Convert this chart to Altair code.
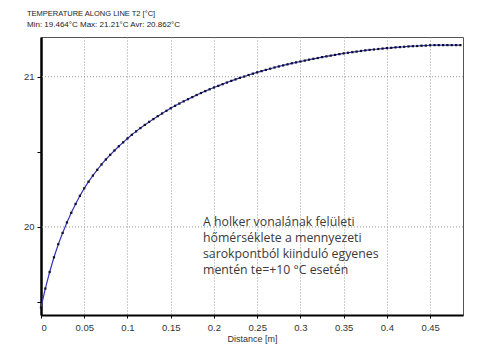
import altair as alt
import pandas as pd

# Sampling positions along line T2 (m), every 5 mm
distance_m = [round(i * 0.005, 3) for i in range(98)]

# Surface temperature at each sampling position (°C)
temperature_c = [
    19.464, 19.590, 19.700, 19.798, 19.885, 19.960, 20.030, 20.094, 20.153, 20.207,
    20.257, 20.301, 20.342, 20.380, 20.416, 20.449, 20.480, 20.509, 20.537, 20.563,
    20.589, 20.613, 20.636, 20.658, 20.679, 20.699, 20.718, 20.737, 20.755, 20.773,
    20.790, 20.806, 20.821, 20.836, 20.850, 20.864, 20.878, 20.891, 20.904, 20.916,
    20.928, 20.939, 20.950, 20.961, 20.972, 20.982, 20.992, 21.001, 21.011, 21.020,
    21.029, 21.037, 21.045, 21.053, 21.061, 21.068, 21.075, 21.082, 21.089, 21.095,
    21.101, 21.107, 21.113, 21.119, 21.124, 21.130, 21.135, 21.140, 21.145, 21.150,
    21.155, 21.159, 21.163, 21.167, 21.171, 21.175, 21.178, 21.181, 21.184, 21.187,
    21.190, 21.192, 21.195, 21.197, 21.199, 21.201, 21.203, 21.204, 21.206, 21.207,
    21.209, 21.210, 21.210, 21.210, 21.210, 21.210, 21.210, 21.210,
]

x_ticks = [0, 0.05, 0.1, 0.15, 0.2, 0.25, 0.3, 0.35, 0.4, 0.45]
y_ticks = [19.5, 19.75, 20, 20.25, 20.5, 20.75, 21, 21.25]
y_grid = [20, 21]

title_line1 = "TEMPERATURE ALONG LINE T2 [°C]"
title_line2 = "Min: 19.464°C  Max: 21.21°C  Avr: 20.862°C"
note_lines = [
    "A holker vonalának felületi",
    "hőmérséklete a mennyezeti",
    "sarokpontból kiinduló egyenes",
    "mentén te=+10 °C esetén",
]

df = pd.DataFrame({"d": distance_m, "t": temperature_c})
grid_df = pd.DataFrame({"g": y_grid})
one = pd.DataFrame({"k": [0]})

SANS = "Liberation Sans"

x_scale = alt.Scale(domain=[0, 0.488], nice=False, zero=False)
y_scale = alt.Scale(domain=[19.414, 21.264], nice=False, zero=False)

x_enc = alt.X(
    "d:Q",
    scale=x_scale,
    title="Distance [m]",
    axis=alt.Axis(
        values=x_ticks,
        format=".2~f",
        grid=True,
        gridColor="#9a9a9a",
        gridDash=[1, 2],
        gridWidth=1,
        domainColor="#000000",
        domainWidth=2,
        tickColor="#000000",
        tickSize=3,
        labelPadding=4,
        labelFont=SANS,
        labelFontSize=9.5,
        labelColor="#333333",
        titleFont=SANS,
        titleFontSize=9,
        titleFontWeight="normal",
        titleColor="#333333",
        titlePadding=3,
    ),
)

y_enc = alt.Y(
    "t:Q",
    scale=y_scale,
    title=None,
    axis=alt.Axis(
        values=y_ticks,
        format=".0f",
        labelExpr="datum.value == 20 || datum.value == 21 ? datum.label : ''",
        grid=False,
        domainColor="#000000",
        domainWidth=2.5,
        tickColor="#000000",
        tickSize=4,
        labelPadding=3,
        labelFont=SANS,
        labelFontSize=9.5,
        labelColor="#333333",
    ),
)

grid = (
    alt.Chart(grid_df)
    .mark_rule(color="#9a9a9a", strokeDash=[1, 2], strokeWidth=1)
    .encode(y=alt.Y("g:Q", scale=y_scale))
)

line = (
    alt.Chart(df)
    .mark_line(color="#3535b5", strokeWidth=1.2)
    .encode(x=x_enc, y=y_enc)
)

dots = (
    alt.Chart(df)
    .mark_square(size=5, color="#101028", opacity=1)
    .encode(x="d:Q", y="t:Q")
)

head1 = alt.Chart(one).mark_text(
    align="left", baseline="alphabetic", font=SANS, fontSize=7.5, color="#222222"
).encode(x=alt.value(-14), y=alt.value(-21), text=alt.value(title_line1))

head2 = alt.Chart(one).mark_text(
    align="left", baseline="alphabetic", font=SANS, fontSize=8, color="#222222"
).encode(x=alt.value(-14), y=alt.value(-10), text=alt.value(title_line2))

# Annotation block, one text mark per line
note_layers = [
    alt.Chart(one)
    .mark_text(
        align="left",
        baseline="alphabetic",
        font="Open Sans",
        fontSize=12.3,
        color="#3a3a3a",
    )
    .encode(x=alt.value(162), y=alt.value(189 + 16 * i), text=alt.value(txt))
    for i, txt in enumerate(note_lines)
]

chart = (
    alt.layer(grid, line, dots, head1, head2, *note_layers)
    .properties(
        width=422,
        height=278,
        autosize=alt.AutoSizeParams(type="none"),
        padding={"left": 41, "top": 37, "right": 14, "bottom": 30},
        background="white",
    )
    .configure_view(stroke="#555555", strokeWidth=1)
)

chart.save("out.html", embed_options={"renderer": "svg", "actions": False})
